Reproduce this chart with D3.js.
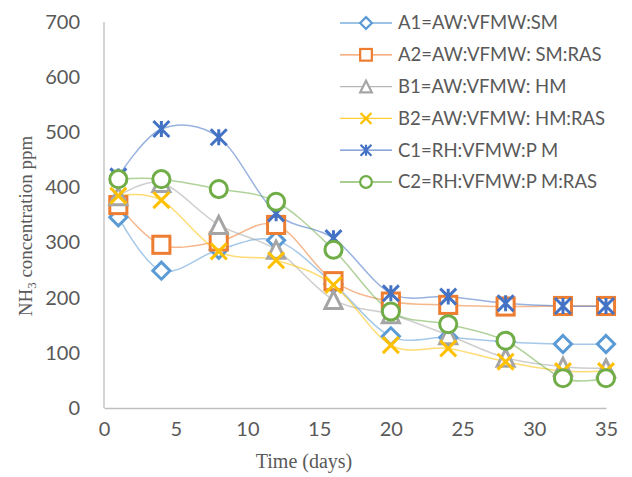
<!DOCTYPE html>
<html>
<head>
<meta charset="utf-8">
<script src="https://cdn.jsdelivr.net/npm/d3@7"></script>
<style>
  body { margin: 0; background: #fff; }
  svg { display: block; }
</style>
</head>
<body>
<svg width="632" height="477"></svg>
<script>
const svg = d3.select("svg");

// data
const days = [1, 4, 8, 12, 16, 20, 24, 28, 32, 35];
const seriesNames = ["A1=AW:VFMW:SM", "A2=AW:VFMW: SM:RAS", "B1=AW:VFMW: HM", "B2=AW:VFMW: HM:RAS", "C1=RH:VFMW:P M", "C2=RH:VFMW:P M:RAS"];
const a1 = [346, 249, 287, 304, 225, 130, 128, 120, 116, 116];
const a2 = [368, 296, 302, 332, 230, 193, 187, 184, 185, 185];
const b1 = [384, 408, 332, 287, 196, 170, 132, 91, 75, 72];
const b2 = [385, 377, 284, 268, 223, 114, 108, 84, 67, 67];
const c1 = [420, 506, 491, 353, 308, 208, 202, 190, 185, 185];
const c2 = [415, 415, 397, 374, 287, 175, 152, 122, 54, 54];
const xTicks = [0, 5, 10, 15, 20, 25, 30, 35];
const yTicks = [0, 100, 200, 300, 400, 500, 600, 700];

const colors = ["#5B9BD5", "#ED7D31", "#A5A5A5", "#FFC000", "#4472C4", "#70AD47"];
const markers = ["diamond", "square", "triangle", "x", "star", "circle"];
const allValues = [a1, a2, b1, b2, c1, c2];

const x = d3.scaleLinear().domain([0, 35]).range([104, 606]);
const y = d3.scaleLinear().domain([0, 700]).range([408, 22]);

// axes
const xAxis = svg.append("g").attr("transform", "translate(0,408)")
  .call(d3.axisBottom(x).tickValues(xTicks).tickSize(0).tickPadding(14));
const yAxis = svg.append("g").attr("transform", "translate(104,0)")
  .call(d3.axisLeft(y).tickValues(yTicks).tickSize(0).tickPadding(24));
[xAxis, yAxis].forEach(ax => {
  ax.select(".domain").attr("stroke", "#bfbfbf").attr("stroke-width", 1.3);
  ax.selectAll("text").attr("fill", "#595959")
    .style("font-family", "Lato, 'Open Sans', sans-serif").style("font-size", "20px");
});
yAxis.select(".domain").attr("d", "M0,22V408");

// axis titles
svg.append("text")
  .attr("x", 304).attr("y", 468)
  .attr("text-anchor", "middle")
  .attr("fill", "#595959")
  .style("font-family", "'Liberation Serif', 'Times New Roman', serif")
  .style("font-size", "20px")
  .text("Time (days)");

const yt = svg.append("text")
  .attr("transform", "translate(32,226) rotate(-90)")
  .attr("text-anchor", "middle")
  .attr("fill", "#595959")
  .style("font-family", "'Liberation Serif', 'Times New Roman', serif")
  .style("font-size", "19px");
yt.append("tspan").text("NH");
yt.append("tspan").attr("dy", 4).style("font-size", "13px").text("3");
yt.append("tspan").attr("dy", -4).text(" concentration ppm");

function drawMarker(g, type, color, s, sw) {
  if (type === "circle") {
    g.append("circle").attr("r", s * 0.45).attr("fill", "#fff").attr("stroke", color).attr("stroke-width", sw);
  } else if (type === "square") {
    g.append("rect").attr("x", -s * 0.45).attr("y", -s * 0.45).attr("width", s * 0.9).attr("height", s * 0.9)
      .attr("fill", "#fff").attr("stroke", color).attr("stroke-width", sw);
  } else if (type === "diamond") {
    const h = s * 0.45;
    g.append("path").attr("d", `M0,${-h}L${h},0L0,${h}L${-h},0Z`)
      .attr("fill", "#fff").attr("stroke", color).attr("stroke-width", sw);
  } else if (type === "triangle") {
    const h = s * 0.45;
    g.append("path").attr("d", `M0,${-h}L${h},${h}L${-h},${h}Z`)
      .attr("fill", "#fff").attr("stroke", color).attr("stroke-width", sw);
  } else if (type === "x") {
    const h = s * 0.42;
    g.append("path").attr("d", `M${-h},${-h}L${h},${h}M${-h},${h}L${h},${-h}`)
      .attr("stroke", color).attr("stroke-width", sw).attr("fill", "none");
  } else if (type === "star") {
    const h = s * 0.42;
    g.append("path").attr("d", `M${-h},${-h}L${h},${h}M${-h},${h}L${h},${-h}M0,${-h}L0,${h}`)
      .attr("stroke", color).attr("stroke-width", sw).attr("fill", "none");
  }
}

const line = d3.line()
  .x(d => x(d[0]))
  .y(d => y(d[1]))
  .curve(d3.curveCardinal.tension(0));

allValues.forEach((vals, i) => {
  const pts = days.map((d, j) => [d, vals[j]]);
  svg.append("path")
    .datum(pts)
    .attr("d", line)
    .attr("fill", "none")
    .attr("stroke", colors[i])
    .attr("stroke-opacity", 0.55)
    .attr("stroke-width", 1.5);
});

allValues.forEach((vals, i) => {
  days.forEach((d, j) => {
    const g = svg.append("g").attr("transform", `translate(${x(d)},${y(vals[j])})`);
    drawMarker(g, markers[i], colors[i], 19, 3);
  });
});

// legend
const legend = svg.append("g");
seriesNames.forEach((name, i) => {
  const ly = 23 + i * 31.8;
  const row = legend.append("g").attr("transform", `translate(0,${ly})`);
  row.append("line").attr("x1", 340).attr("x2", 392).attr("y1", 0).attr("y2", 0)
    .attr("stroke", colors[i]).attr("stroke-width", 1.3).attr("stroke-opacity", 0.8);
  const m = row.append("g").attr("transform", "translate(366,0)");
  drawMarker(m, markers[i], colors[i], 13, 2.2);
  row.append("text").attr("x", 398).attr("y", 0).attr("dy", "0.35em")
    .attr("fill", "#595959")
    .style("font-family", "Lato, 'Open Sans', sans-serif").style("font-size", "18.5px")
    .text(name);
});
</script>
</body>
</html>
